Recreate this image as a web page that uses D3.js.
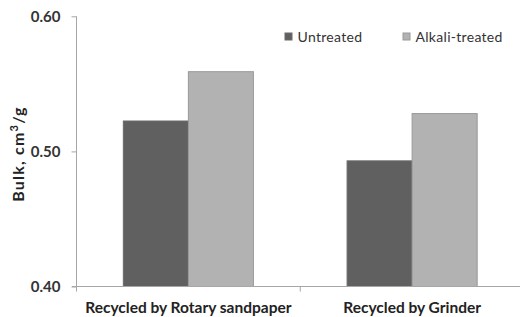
<!DOCTYPE html>
<html>
  <head>
    <script src="https://d3js.org/d3.v7.min.js"></script>
    <style>
      body { margin: 0; background: #fff; }
      text { font-family: Lato, "Open Sans", sans-serif; }
    </style>
  </head>
  <body>
    <svg width="520" height="317"></svg>
    <script>
      const categories = ["Recycled by Rotary sandpaper", "Recycled by Grinder"];
      const series = ["Untreated", "Alkali-treated"];
      const untreated = [0.5225, 0.493];
      const alkali = [0.559, 0.528];
      const yTicks = [0.40, 0.50, 0.60];

      const colors = ["#606060", "#b2b2b2"];
      const strokes = ["#6a6a6a", "#999999"];

      const svg = d3.select("svg");
      const x = d3.scaleBand().domain(categories).range([76.5, 524]);
      const xInner = d3.scaleBand().domain(series).range([0, x.bandwidth()]).paddingOuter(0.72).paddingInner(0);
      const y = d3.scaleLinear().domain([0.4, 0.6]).range([286.5, 16.3]);

      const data = categories.map((c, i) => ({ cat: c, vals: [untreated[i], alkali[i]] }));

      // bars
      const g = svg.selectAll("g.grp").data(data).enter().append("g")
        .attr("transform", d => `translate(${x(d.cat)},0)`);
      g.selectAll("rect").data(d => d.vals.map((v, j) => ({ s: series[j], v, j })))
        .enter().append("rect")
        .attr("x", d => xInner(d.s))
        .attr("y", d => y(d.v))
        .attr("width", xInner.bandwidth())
        .attr("height", d => y(0.4) - y(d.v))
        .attr("fill", d => colors[d.j])
        .attr("stroke", d => strokes[d.j])
        .attr("stroke-width", 1);

      // y axis
      const yAxis = svg.append("g").attr("transform", "translate(76.5,0)")
        .call(d3.axisLeft(y).tickValues(yTicks).tickFormat(d3.format(".2f")).tickSize(5));
      yAxis.select(".domain").attr("stroke", "#a6a6a6").attr("d", "M0,16.3V286.5");
      yAxis.selectAll(".tick line").attr("stroke", "#a6a6a6");
      yAxis.selectAll(".tick text").attr("x", -16).attr("fill", "#333")
        .style("font-size", "15px").style("font-weight", "bold");

      // x axis
      const xAxis = svg.append("g").attr("transform", "translate(0,286.5)");
      xAxis.append("line").attr("x1", 72).attr("x2", 520).attr("stroke", "#a6a6a6");
      xAxis.selectAll("line.t").data(categories.concat(["end"])).enter().append("line")
        .attr("x1", (d, i) => i < categories.length ? x(d) : x.range()[1])
        .attr("x2", (d, i) => i < categories.length ? x(d) : x.range()[1])
        .attr("y1", 0).attr("y2", 5).attr("stroke", "#a6a6a6");
      xAxis.selectAll("text").data(categories).enter().append("text")
        .attr("x", d => x(d) + x.bandwidth() / 2)
        .attr("y", 26.5)
        .attr("text-anchor", "middle")
        .attr("fill", "#222")
        .style("font-size", "15.5px").style("font-weight", "bold")
        .text(d => d);

      // y title
      const yt = svg.append("text")
        .attr("transform", "translate(24,154) rotate(-90)")
        .attr("text-anchor", "middle")
        .attr("fill", "#222")
        .style("font-size", "16px").style("font-weight", "bold")
        .style("letter-spacing", "1.2px");
      yt.append("tspan").text("Bulk, cm");
      yt.append("tspan").attr("dy", -6).style("font-size", "11px").text("3");
      yt.append("tspan").attr("dy", 6).text("/g");

      // legend
      const legX = [285, 403];
      const leg = svg.selectAll("g.leg").data(series).enter().append("g")
        .attr("transform", (d, i) => `translate(${legX[i]},33)`);
      leg.append("rect").attr("width", 7).attr("height", 7)
        .attr("fill", (d, i) => colors[i]).attr("stroke", (d, i) => strokes[i]);
      leg.append("text").attr("x", 12.5).attr("y", 9)
        .attr("fill", "#333").style("font-size", "14px").style("letter-spacing", "0.3px")
        .text(d => d);
    </script>
  </body>
</html>
